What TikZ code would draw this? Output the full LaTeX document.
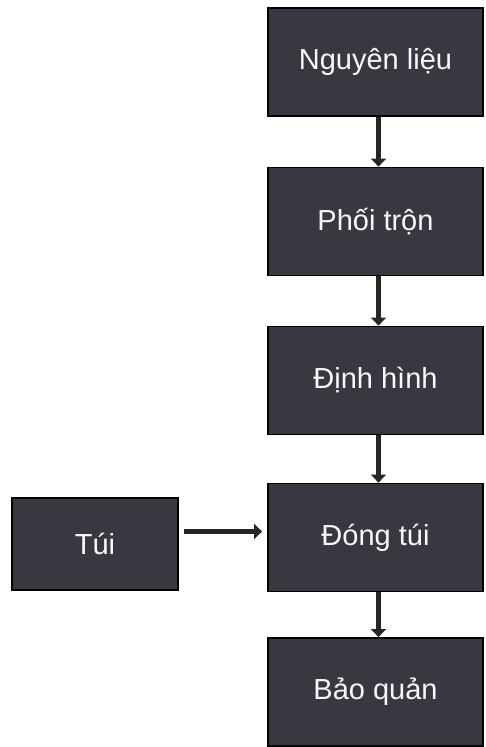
\documentclass[tikz,border=0pt]{standalone}
\usepackage{fontspec}
\setmainfont{Liberation Sans}
\usetikzlibrary{arrows.meta}
\definecolor{boxfill}{RGB}{56,56,64}
\definecolor{boxtext}{RGB}{248,248,248}
\begin{document}
\begin{tikzpicture}[x=1pt,y=-1pt,
  stepbox/.style={draw=black,line width=1.8pt,fill=boxfill,text=boxtext,
    minimum width=215pt,minimum height=108pt,inner sep=0pt,
    font=\fontsize{29}{32}\selectfont},
  sidebox/.style={stepbox,minimum width=166pt,minimum height=92pt},
  flow/.style={draw=black!85,line width=5pt,
    -{Triangle[length=8pt,width=15pt]}}]
\useasboundingbox (0,0) rectangle (485,747);
\node[stepbox] (nl) at (375.5,62) {Nguyên liệu};
\node[stepbox] (pt) at (375.5,221.5) {Phối trộn};
\node[stepbox] (dh) at (375.5,380.5) {Định hình};
\node[stepbox] (dt) at (375.5,537.5) {Đóng túi};
\node[stepbox] (bq) at (375.5,692) {Bảo quản};
\node[sidebox] (tui) at (95,544) {Túi};
\draw[flow] ([xshift=3pt]nl.south) -- ([xshift=3pt]pt.north);
\draw[flow] ([xshift=3pt]pt.south) -- ([xshift=3pt]dh.north);
\draw[flow] ([xshift=3pt]dh.south) -- ([xshift=3pt]dt.north);
\draw[flow] ([xshift=3pt]dt.south) -- ([xshift=3pt]bq.north);
\draw[flow,shorten <=5pt,shorten >=5pt] (tui.east|-dt.west) ++(0,-6) coordinate (a) (a) -- (a-|dt.west);
\end{tikzpicture}
\end{document}
